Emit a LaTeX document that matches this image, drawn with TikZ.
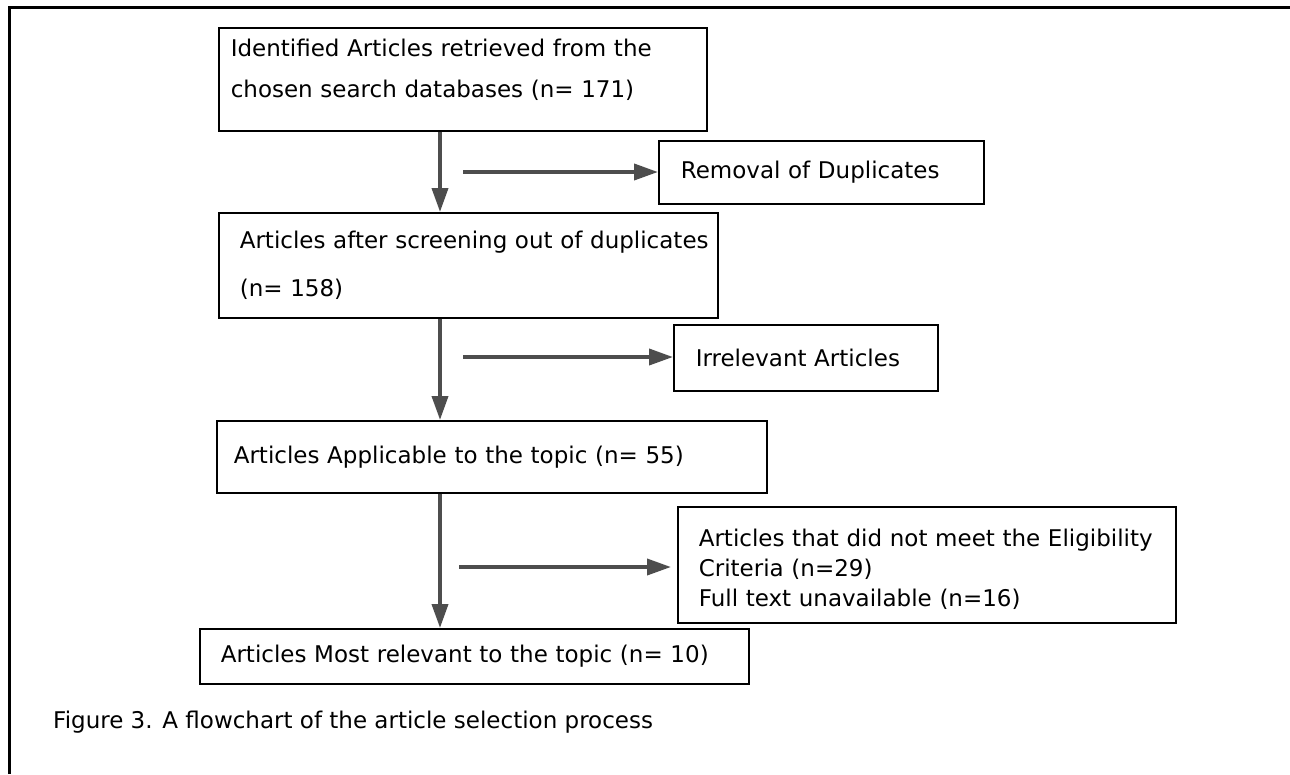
\documentclass[tikz,border=0pt]{standalone}
\usepackage{fontspec}
\setmainfont{DejaVu Sans}
\usetikzlibrary{arrows.meta}
\definecolor{arrgray}{HTML}{4D4D4D}
\newcommand{\xdep}[1]{\rule[-#1]{0pt}{#1}}
\tikzset{
  box/.style={draw=black, line width=1.6pt, align=left, anchor=north west,
    inner ysep=0pt, font=\fontsize{23}{30}\selectfont},
  arr/.style={draw=arrgray, line width=3.8pt,
    -{Triangle[length=24pt,width=16pt]}},
  frame/.style={draw=black, line width=3pt}
}
\begin{document}
\begin{tikzpicture}[x=1pt,y=-1pt]
\useasboundingbox (0,0) rectangle (1290,774);
\draw[frame] (9,774) -- (9,7) -- (1290,7);

\node[box, inner xsep=12pt, text width=464pt, minimum height=103pt,
  font=\fontsize{23}{41}\selectfont] (b1) at (218,27)
  {\mbox{Identified Articles retrieved from the}\\\mbox{chosen search databases (n= 171)}\xdep{23pt}};
\node[box, inner xsep=22pt, text width=281pt, minimum height=63pt] (rem) at (658,140)
  {\mbox{Removal of Duplicates}};
\node[box, inner xsep=21pt, text width=457pt, minimum height=105pt,
  font=\fontsize{23}{48}\selectfont] (b2) at (218,212)
  {\mbox{Articles after screening out of duplicates}\\\mbox{(n= 158)}};
\node[box, inner xsep=22pt, text width=220pt, minimum height=66pt] (irr) at (673,324)
  {\mbox{Irrelevant Articles}};
\node[box, inner xsep=17pt, text width=516pt, minimum height=72pt] (b3) at (216,420)
  {\mbox{Articles Applicable to the topic (n= 55)}};
\node[box, inner xsep=21pt, text width=456pt, minimum height=116pt] (b4) at (677,506)
  {\rule{0pt}{25.5pt}\mbox{Articles that did not meet the Eligibility}\\\mbox{Criteria (n=29)}\\\mbox{Full text unavailable (n=16)}};
\node[box, inner xsep=21pt, text width=507pt, minimum height=55pt] (b5) at (199,628)
  {\mbox{Articles Most relevant to the topic (n= 10)}};
\node[anchor=west, inner sep=0pt, font=\fontsize{23}{30}\selectfont] (cap) at (53,722)
  {Figure 3. A flowchart of the article selection process};

\coordinate (vx) at (440,0);
\coordinate (h1s) at (463,172);
\coordinate (h2s) at (463,357);
\coordinate (h3s) at (459,567);

\draw[arr] (b1.south -| vx) -- (b2.north -| vx);
\draw[arr] (b2.south -| vx) -- (b3.north -| vx);
\draw[arr] (b3.south -| vx) -- (b5.north -| vx);
\draw[arr] (h1s) -- (rem.west |- h1s);
\draw[arr] (h2s) -- (irr.west |- h2s);
\draw[arr, shorten >=6pt] (h3s) -- (b4.west |- h3s);
\end{tikzpicture}
\end{document}
